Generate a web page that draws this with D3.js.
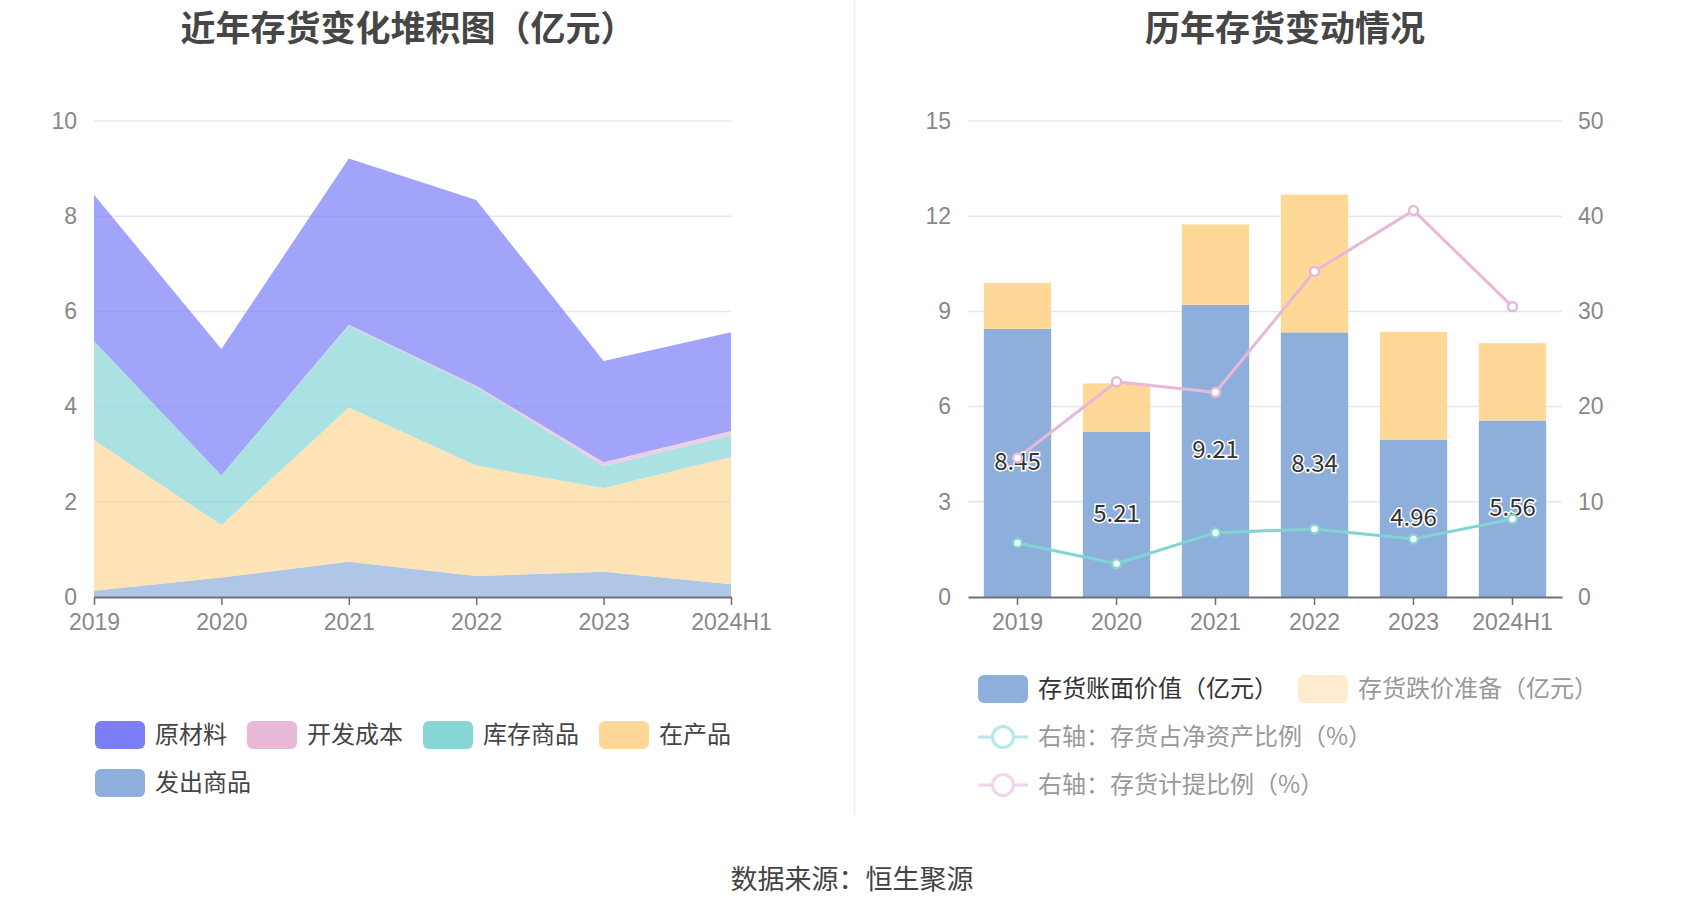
<!DOCTYPE html>
<html>
<head>
<meta charset="utf-8">
<script src="https://cdn.jsdelivr.net/npm/d3@7"></script>
<style>
  body { margin: 0; background: #fff; }
  svg { display: block; font-family: "Noto Sans CJK SC", "Noto Sans", sans-serif; }
</style>
</head>
<body>
<svg id="chart" width="1700" height="918"></svg>
<script>
// years shared by both charts
const years = ["2019", "2020", "2021", "2022", "2023", "2024H1"];

// left chart: stacked areas (亿元), bottom layer first
const shipped = [0.13, 0.41, 0.74, 0.44, 0.53, 0.27];      // 发出商品
const wip = [3.17, 1.10, 3.24, 2.32, 1.76, 2.67];           // 在产品
const goods = [2.08, 1.05, 1.72, 1.65, 0.46, 0.46];         // 库存商品
const devCost = [0.00, 0.00, 0.02, 0.03, 0.08, 0.09];       // 开发成本
const rawMat = [3.07, 2.65, 3.49, 3.90, 2.13, 2.07];        // 原材料
const leftTicks = [0, 2, 4, 6, 8, 10];

// right chart
const bookValue = [8.45, 5.21, 9.21, 8.34, 4.96, 5.56];     // 存货账面价值
const reserve = [1.45, 1.52, 2.53, 4.34, 3.39, 2.44];       // 存货跌价准备
const netAssetRatio = [5.67, 3.50, 6.76, 7.14, 6.09, 8.19]; // 存货占净资产比例 %
const provisionRatio = [14.6, 22.6, 21.5, 34.2, 40.6, 30.5];// 存货计提比例 %
const rightTicksL = [0, 3, 6, 9, 12, 15];
const rightTicksR = [0, 10, 20, 30, 40, 50];

const svg = d3.select("#chart");
const gridColor = "#e0e6f1", axisColor = "#6e7079", labelColor = "#888";
const lift = -3; // CJK font sits a little low with a central baseline

// titles, divider, footer
svg.append("text").attr("x", 408).attr("y", 41).attr("text-anchor", "middle")
  .attr("font-size", 35).attr("font-weight", "bold")
  .attr("fill", "#464646").text("近年存货变化堆积图（亿元）");
svg.append("text").attr("x", 1285).attr("y", 41).attr("text-anchor", "middle")
  .attr("font-size", 35).attr("font-weight", "bold")
  .attr("fill", "#464646").text("历年存货变动情况");
svg.append("line").attr("x1", 854.5).attr("x2", 854.5).attr("y1", 0).attr("y2", 814)
  .attr("stroke", "#eee").attr("stroke-width", 1.5);
svg.append("text").attr("x", 852).attr("y", 877).attr("text-anchor", "middle")
  .attr("dominant-baseline", "central").attr("font-size", 27).attr("fill", "#444")
  .text("数据来源：恒生聚源");

// ---------- left: stacked area ----------
const layers = [
  { name: "发出商品", color: "#8eaedc", values: shipped },
  { name: "在产品", color: "#fdd797", values: wip },
  { name: "库存商品", color: "#86d6d8", values: goods },
  { name: "开发成本", color: "#e8b8d8", values: devCost },
  { name: "原材料", color: "#7b7ef6", values: rawMat }
];

const xL = d3.scalePoint().domain(years).range([94, 731]).padding(0);
const yL = d3.scaleLinear().domain([0, 10]).range([597, 121]);

const gL = svg.append("g");
gL.selectAll(".grid").data(leftTicks.slice(1)).join("line")
  .attr("x1", 94).attr("x2", 731).attr("y1", d => yL(d)).attr("y2", d => yL(d))
  .attr("stroke", gridColor).attr("stroke-width", 1.5);

const rows = years.map((y, i) => {
  const r = { year: y };
  layers.forEach(l => r[l.name] = l.values[i]);
  return r;
});
const stacked = d3.stack().keys(layers.map(l => l.name))(rows);
const area = d3.area()
  .x(d => xL(d.data.year)).y0(d => yL(d[0])).y1(d => yL(d[1]));
gL.selectAll(".layer").data(stacked).join("path")
  .attr("d", area)
  .attr("fill", (d, i) => layers[i].color)
  .attr("fill-opacity", 0.7);

// axes
const axL = gL.append("g").attr("transform", "translate(0,597)")
  .call(d3.axisBottom(xL).tickSize(8).tickSizeOuter(0));
axL.select(".domain").attr("stroke", axisColor).attr("stroke-width", 2);
axL.selectAll(".tick line").attr("stroke", axisColor).attr("stroke-width", 1.5);
axL.selectAll(".tick text").attr("font-size", 23).attr("fill", labelColor).attr("dy", 0)
  .attr("y", 33);

const ayL = gL.append("g").attr("transform", "translate(77,0)")
  .call(d3.axisLeft(yL).tickValues(leftTicks).tickSize(0));
ayL.select(".domain").remove();
ayL.selectAll(".tick text").attr("font-size", 23).attr("fill", labelColor).attr("x", 0);

// left legend (reverse of stacking order), wraps at plot width
const legL = svg.append("g");
let lx = 95, ly = 735;
layers.slice().reverse().forEach(l => {
  const g = legL.append("g");
  g.append("rect").attr("width", 50).attr("height", 28).attr("rx", 6)
    .attr("y", -14).attr("fill", l.color);
  const t = g.append("text").attr("x", 60).attr("y", lift).attr("dominant-baseline", "central")
    .attr("font-size", 24).attr("fill", "#444").text(l.name);
  const w = 60 + t.node().getComputedTextLength();
  if (lx + w > 740) { lx = 95; ly += 48; }
  g.attr("transform", `translate(${lx},${ly})`);
  lx += w + 20;
});

// ---------- right: bars + lines ----------
const xR = d3.scaleBand().domain(years).range([968, 1562]).paddingInner(0.32).paddingOuter(0.16);
const yR = d3.scaleLinear().domain([0, 15]).range([597, 121]);
const yR2 = d3.scaleLinear().domain([0, 50]).range([597, 121]);

const gR = svg.append("g");
gR.selectAll(".grid").data(rightTicksL.slice(1)).join("line")
  .attr("x1", 968).attr("x2", 1562).attr("y1", d => yR(d)).attr("y2", d => yR(d))
  .attr("stroke", gridColor).attr("stroke-width", 1.5);

gR.selectAll(".book").data(years).join("rect")
  .attr("x", d => xR(d)).attr("width", xR.bandwidth())
  .attr("y", (d, i) => yR(bookValue[i]))
  .attr("height", (d, i) => yR(0) - yR(bookValue[i]))
  .attr("fill", "#8eaedb");
gR.selectAll(".reserve").data(years).join("rect")
  .attr("x", d => xR(d)).attr("width", xR.bandwidth())
  .attr("y", (d, i) => yR(bookValue[i] + reserve[i]))
  .attr("height", (d, i) => yR(bookValue[i]) - yR(bookValue[i] + reserve[i]))
  .attr("fill", "#fed897");

const cx = d => xR(d) + xR.bandwidth() / 2;
const axR = gR.append("g").attr("transform", "translate(0,597)")
  .call(d3.axisBottom(xR).tickSize(8).tickSizeOuter(0));
axR.select(".domain").attr("stroke", axisColor).attr("stroke-width", 2);
axR.selectAll(".tick line").attr("stroke", axisColor).attr("stroke-width", 1.5);
axR.selectAll(".tick text").attr("font-size", 23).attr("fill", labelColor).attr("dy", 0)
  .attr("y", 33);

const ayR = gR.append("g").attr("transform", "translate(951,0)")
  .call(d3.axisLeft(yR).tickValues(rightTicksL).tickSize(0));
ayR.select(".domain").remove();
ayR.selectAll(".tick text").attr("font-size", 23).attr("fill", labelColor).attr("x", 0);
const ayR2 = gR.append("g").attr("transform", "translate(1578,0)")
  .call(d3.axisRight(yR2).tickValues(rightTicksR).tickSize(0));
ayR2.select(".domain").remove();
ayR2.selectAll(".tick text").attr("font-size", 23).attr("fill", labelColor).attr("x", 0);

const lineSeries = [
  { name: "右轴：存货占净资产比例（%）", color: "#80d4d5", values: netAssetRatio },
  { name: "右轴：存货计提比例（%）", color: "#e6b9d9", values: provisionRatio }
];
const line = d3.line().x((d, i) => cx(years[i])).y(d => yR2(d));
lineSeries.forEach(s => {
  gR.append("path").attr("d", line(s.values)).attr("fill", "none")
    .attr("stroke", s.color).attr("stroke-width", 3);
});

// bar value labels at mid-height of the book value bars
gR.selectAll(".vlabel").data(years).join("text")
  .attr("x", d => cx(d)).attr("y", (d, i) => yR(bookValue[i] / 2) + lift)
  .attr("text-anchor", "middle").attr("dominant-baseline", "central")
  .attr("font-size", 24).attr("fill", "#333")
  .attr("stroke", "#fff").attr("stroke-width", 3).attr("paint-order", "stroke")
  .text((d, i) => bookValue[i].toFixed(2));

lineSeries.forEach(s => {
  gR.selectAll(null).data(s.values).join("circle")
    .attr("cx", (d, i) => cx(years[i])).attr("cy", d => yR2(d)).attr("r", 4.5)
    .attr("fill", "#fff").attr("stroke", s.color).attr("stroke-width", 2.5);
});

// right legend
const legR = svg.append("g");
const legItems = [
  { name: "存货账面价值（亿元）", type: "rect", color: "#8eaedb", text: "#333" },
  { name: "存货跌价准备（亿元）", type: "rect", color: "#feebd0", text: "#999" },
  { name: lineSeries[0].name, type: "line", color: "#b5e8e9", text: "#999" },
  { name: lineSeries[1].name, type: "line", color: "#f2d5ea", text: "#999" }
];
let rx = 978, ry = 689;
legItems.forEach(it => {
  const g = legR.append("g");
  if (it.type === "rect") {
    g.append("rect").attr("width", 50).attr("height", 28).attr("rx", 6)
      .attr("y", -14).attr("fill", it.color);
  } else {
    g.append("line").attr("x1", 0).attr("x2", 50).attr("stroke", it.color).attr("stroke-width", 3);
    g.append("circle").attr("cx", 25).attr("r", 10.5).attr("fill", "#fff")
      .attr("stroke", it.color).attr("stroke-width", 3);
  }
  const t = g.append("text").attr("x", 60).attr("y", lift).attr("dominant-baseline", "central")
    .attr("font-size", 24).attr("fill", it.text).text(it.name);
  const w = 60 + t.node().getComputedTextLength();
  if (rx + w > 1620) { rx = 978; ry += 48; }
  g.attr("transform", `translate(${rx},${ry})`);
  rx += w + 20;
});
</script>
</body>
</html>
